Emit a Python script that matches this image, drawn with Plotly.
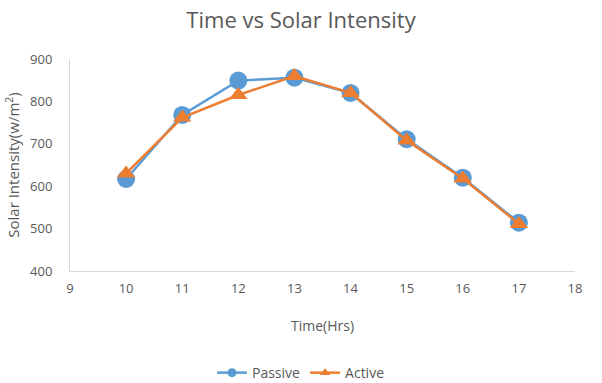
import plotly.graph_objects as go

hours = [10, 11, 12, 13, 14, 15, 16, 17]
passive = [617, 768, 849, 856, 820, 711, 620, 514]
active = [630, 762, 815, 860, 820, 708, 618, 511]

x_ticks = [9, 10, 11, 12, 13, 14, 15, 16, 17, 18]
y_ticks = [400, 500, 600, 700, 800, 900]

blue = "#5B9BD5"
orange = "#ED7D31"

fig = go.Figure()
fig.add_trace(go.Scatter(x=hours, y=passive, name="Passive", mode="lines+markers",
                         line=dict(color=blue, width=2.5), showlegend=False, legendgroup="p",
                         marker=dict(symbol="circle", size=18, color=blue)))
fig.add_trace(go.Scatter(x=hours, y=active, name="Active", mode="lines+markers",
                         line=dict(color=orange, width=2.5), showlegend=False, legendgroup="a",
                         marker=dict(symbol="triangle-up", size=16, color=orange)))
# legend entries with smaller markers
fig.add_trace(go.Scatter(x=[None], y=[None], name="Passive", mode="lines+markers", legendgroup="p",
                         line=dict(color=blue, width=2.5),
                         marker=dict(symbol="circle", size=9, color=blue)))
fig.add_trace(go.Scatter(x=[None], y=[None], name="Active", mode="lines+markers", legendgroup="a",
                         line=dict(color=orange, width=2.5),
                         marker=dict(symbol="triangle-up", size=9, color=orange)))

font = "Open Sans, Liberation Sans, sans-serif"
fig.update_layout(
    width=602, height=383,
    paper_bgcolor="white", plot_bgcolor="white",
    margin=dict(l=70, r=27, t=59, b=112, autoexpand=False),
    title=dict(text="Time vs Solar Intensity", x=0.5, xanchor="center",
               yref="container", y=0.947, yanchor="middle",
               font=dict(family=font, size=22, color="#595959")),
    font=dict(family=font, color="#595959", size=13),
    xaxis=dict(range=[9, 18], tickvals=x_ticks, showgrid=False, zeroline=False,
               showline=True, linecolor="#D9D9D9", linewidth=1, ticks="", automargin=False,
               ticklabelstandoff=5,
               title=dict(text="Time(Hrs)", font=dict(size=14, color="#595959"), standoff=25),
               tickfont=dict(size=13, color="#595959")),
    yaxis=dict(range=[400, 900], tickvals=y_ticks, showgrid=False, zeroline=False,
               showline=True, linecolor="#D9D9D9", linewidth=1, ticks="", automargin=False,
               ticklabelstandoff=14,
               title=dict(text="Solar Intensity(w/m<sup>2</sup>)", font=dict(size=15, color="#595959"), standoff=6),
               tickfont=dict(size=13, color="#595959")),
    legend=dict(orientation="h", xref="container", x=0.5, xanchor="center",
                yref="container", y=0.026, yanchor="middle",
                font=dict(size=14, color="#595959"), itemwidth=30),
    showlegend=True,
)

fig.write_html("out.html", config={"displayModeBar": False},
               post_script="document.body.style.margin='0px';document.documentElement.style.overflow='hidden';")
